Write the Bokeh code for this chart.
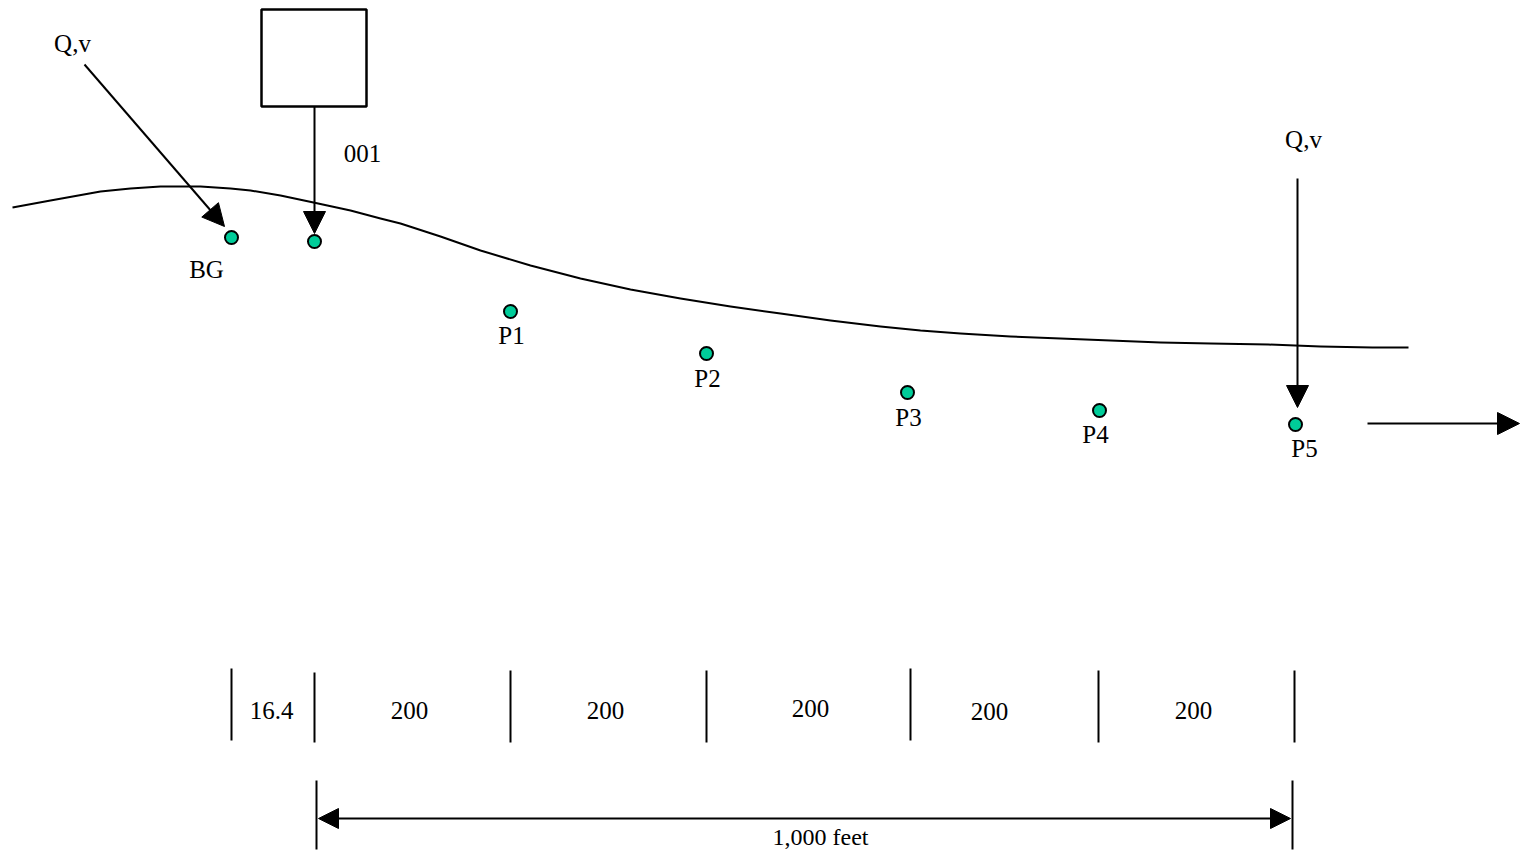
from bokeh.plotting import figure
from bokeh.models import Range1d, Arrow, NormalHead
from bokeh.core.properties import value
from bokeh.embed import file_html
from bokeh.resources import INLINE

# ---- data (drawing coordinates, reference pixels) ----
stations = ["BG", "001", "P1", "P2", "P3", "P4", "P5"]
station_x = [231, 314, 510, 706, 907, 1099, 1295]
station_y = [237, 241, 311, 353, 392, 410, 424]

label_text = ["BG", "P1", "P2", "P3", "P4", "P5"]
label_x = [206, 511, 707, 908, 1095, 1304]
label_y = [269, 335, 378, 417, 434, 448]

bank_x = [12, 50, 100, 130, 160, 200, 230, 250, 280, 313, 350, 380, 400, 440, 480, 530, 580, 630, 680, 730, 780, 830, 880, 920, 960, 1010, 1060, 1110, 1160, 1210, 1268, 1320, 1372, 1408]
bank_y = [207, 200, 191, 188, 186, 186, 188, 190, 195, 202, 210, 218, 223, 236, 250, 265, 278, 289, 298, 306, 313, 320, 326, 330, 333, 336, 338, 340, 342, 343, 344, 346, 347, 347]

seg_bounds_x = [231, 314, 510, 706, 910, 1098, 1294]
seg_top = [668, 672, 670, 670, 668, 670, 670]
seg_bottom = [740, 742, 742, 742, 740, 742, 742]
seg_labels = ["16.4", "200", "200", "200", "200", "200"]
seg_label_x = [271, 409, 605, 810, 989, 1193]
seg_label_y = [710, 710, 710, 708, 711, 710]

dim_x = [316, 1292]
dim_top = 780
dim_bottom = 849
dim_y = 818
dim_label = "1,000 feet"

flow_labels = ["Q,v", "Q,v", "001"]
flow_label_x = [72, 1303, 362]
flow_label_y = [43, 139, 153]

# ---- figure ----
W, H = 1521, 850
p = figure(width=W, height=H, output_backend="svg", toolbar_location=None,
           x_range=Range1d(0, W), y_range=Range1d(H, 0),
           min_border=0)
p.axis.visible = False
p.grid.visible = False
p.outline_line_color = None
p.background_fill_color = "white"

FONT = value("Liberation Serif")
FS = "25px"

# stream bank curve
p.line(bank_x, bank_y, line_color="black", line_width=2, line_join="round")

# outfall box
p.quad(left=[261], right=[366], top=[9], bottom=[106], fill_color=None,
       line_color="black", line_width=2.5)

def arrow(x0, y0, x1, y1, size=22):
    p.add_layout(Arrow(end=NormalHead(size=size, fill_color="black", line_color="black"),
                       x_start=x0, y_start=y0, x_end=x1, y_end=y1,
                       line_color="black", line_width=2))

arrow(84, 64, 224, 226)        # upstream Q,v
arrow(314, 106, 314, 233)      # outfall 001
arrow(1297, 178, 1297, 407)    # downstream Q,v
arrow(1367, 423, 1519, 423)    # outflow

# stations
p.scatter(station_x, station_y, size=13, fill_color="#00CC99",
          line_color="black", line_width=2)

p.text(label_x, label_y, text=label_text, text_font=FONT, text_font_size=FS,
       text_align="center", text_baseline="middle", text_color="black")
p.text(flow_label_x, flow_label_y, text=flow_labels, text_font=FONT, text_font_size=FS,
       text_align="center", text_baseline="middle", text_color="black")

# segment bars
p.segment(x0=seg_bounds_x, y0=seg_top, x1=seg_bounds_x, y1=seg_bottom,
          line_color="black", line_width=2)
p.text(seg_label_x, seg_label_y, text=seg_labels, text_font=FONT, text_font_size=FS,
       text_align="center", text_baseline="middle", text_color="black")

# dimension line
p.segment(x0=dim_x, y0=[dim_top] * 2, x1=dim_x, y1=[dim_bottom] * 2,
          line_color="black", line_width=2)
p.add_layout(Arrow(start=NormalHead(size=20, fill_color="black", line_color="black"),
                   end=NormalHead(size=20, fill_color="black", line_color="black"),
                   x_start=dim_x[0] + 2, y_start=dim_y, x_end=dim_x[1] - 2, y_end=dim_y,
                   line_color="black", line_width=2))
p.text([820], [836], text=[dim_label], text_font=FONT, text_font_size="24px",
       text_align="center", text_baseline="middle", text_color="black")

open("out.html", "w").write(file_html(p, INLINE))
